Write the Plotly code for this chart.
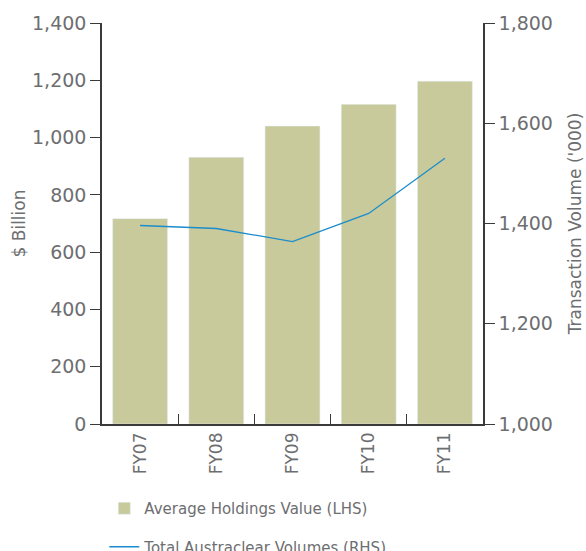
import plotly.graph_objects as go

categories = ["FY07", "FY08", "FY09", "FY10", "FY11"]
holdings_value = [717, 931, 1040, 1116, 1197]
transaction_volume = [1396, 1390, 1364, 1420, 1530]

left_ticks = [0, 200, 400, 600, 800, 1000, 1200, 1400]
right_ticks = [1000, 1200, 1400, 1600, 1800]

GREY = "#6d6e70"
AXIS = "#3a3a3a"
FONT = "DejaVu Sans"

fig = go.Figure()
fig.add_trace(go.Bar(
    x=categories, y=holdings_value, name="Average Holdings Value (LHS)",
    marker=dict(color="#c8ca9b"), legendgroup="a", yaxis="y",
))
fig.add_trace(go.Scatter(
    x=categories, y=transaction_volume, name="Total Austraclear Volumes (RHS)",
    mode="lines", line=dict(color="#1b8ccc", width=1.3), legendgroup="b", yaxis="y2",
))

fig.update_layout(
    width=586, height=551,
    margin=dict(l=102, r=103, t=23, b=127, autoexpand=False),
    paper_bgcolor="white", plot_bgcolor="white",
    font=dict(family=FONT, color=GREY, size=17),
    bargap=0.28,
    showlegend=True,
    legend=dict(
        x=0.006, y=-0.1696, xanchor="left", yanchor="top",
        font=dict(size=15, color=GREY), traceorder="grouped", tracegroupgap=16,
        bgcolor="rgba(0,0,0,0)",
    ),
    xaxis=dict(
        type="category", tickson="boundaries", ticks="inside", ticklen=10,
        tickcolor=AXIS, showline=True, linecolor=AXIS, linewidth=1.5,
        tickangle=-90, tickfont=dict(size=17, color=GREY), showgrid=False,
    ),
    yaxis=dict(
        range=[0, 1400], tickvals=left_ticks, tickformat=",d",
        ticks="outside", ticklen=10, tickcolor=AXIS, showline=True,
        linecolor=AXIS, linewidth=1.5, showgrid=False, zeroline=False,
        tickfont=dict(size=19, color=GREY),
        title=dict(text="$ Billion", font=dict(size=17, color=GREY), standoff=2),
    ),
    yaxis2=dict(
        range=[1000, 1800], tickvals=right_ticks, tickformat=",d",
        overlaying="y", side="right",
        ticks="outside", ticklen=10, tickcolor=AXIS, showline=True,
        linecolor=AXIS, linewidth=1.5, showgrid=False, zeroline=False,
        tickfont=dict(size=19, color=GREY),
        title=dict(text="Transaction Volume ('000)", font=dict(size=17, color=GREY), standoff=17),
    ),
)

fig.write_html(
    "out.html",
    config={"displayModeBar": False},
    post_script="document.body.style.margin='0px';",
)
